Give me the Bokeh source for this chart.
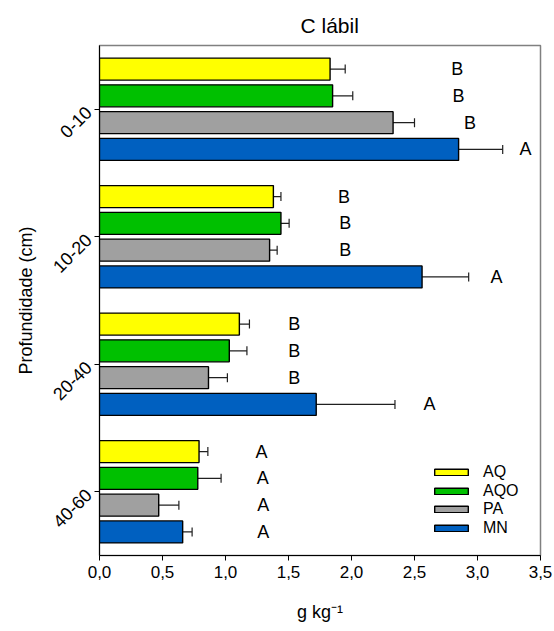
import math
from bokeh.plotting import figure
from bokeh.models import (ColumnDataSource, Whisker, TeeHead, FixedTicker, Legend, LegendItem)
from bokeh.core.properties import value
from bokeh.embed import file_html
from bokeh.resources import INLINE

# ---- data ----
depths = ["0-10", "10-20", "20-40", "40-60"]
series = ["AQ", "AQO", "PA", "MN"]
colors = ["#FFFF00", "#00C000", "#A0A0A0", "#0060C0"]

aq_mean  = [1.83, 1.38, 1.11, 0.79]
aqo_mean = [1.85, 1.44, 1.03, 0.78]
pa_mean  = [2.33, 1.35, 0.865, 0.47]
mn_mean  = [2.85, 2.56, 1.72, 0.66]

aq_err  = [0.12, 0.06, 0.08, 0.07]
aqo_err = [0.16, 0.065, 0.14, 0.185]
pa_err  = [0.17, 0.06, 0.15, 0.16]
mn_err  = [0.35, 0.37, 0.625, 0.075]

aq_letters  = ["B", "B", "B", "A"]
aqo_letters = ["B", "B", "B", "A"]
pa_letters  = ["B", "B", "B", "A"]
mn_letters  = ["A", "A", "A", "A"]

aq_letter_x  = [2.84, 1.94, 1.545, 1.285]
aqo_letter_x = [2.85, 1.95, 1.545, 1.295]
pa_letter_x  = [2.94, 1.95, 1.545, 1.30]
mn_letter_x  = [3.38, 3.15, 2.62, 1.30]

x_ticks = [0.0, 0.5, 1.0, 1.5, 2.0, 2.5, 3.0, 3.5]
x_tick_labels = ["0,0", "0,5", "1,0", "1,5", "2,0", "2,5", "3,0", "3,5"]

means = [aq_mean, aqo_mean, pa_mean, mn_mean]
errs = [aq_err, aqo_err, pa_err, mn_err]
letters = [aq_letters, aqo_letters, pa_letters, mn_letters]
letter_xs = [aq_letter_x, aqo_letter_x, pa_letter_x, mn_letter_x]

FONT = "Liberation Sans"
ngroups = len(depths)
pitch = 0.21
bar_h = 0.1725
offsets = [(1.5 - i) * pitch for i in range(len(series))]
group_centers = [ngroups - 1 - g + 0.5 for g in range(ngroups)]

p = figure(width=554, height=631, x_range=(0, 3.5), y_range=(0, ngroups),
           output_backend="svg", toolbar_location=None,
           min_border_left=99, min_border_right=14, min_border_top=45, min_border_bottom=76)

p.title.text = "C lábil"
p.title.align = "left"
p.title.text_font = FONT
p.title.text_font_size = "21px"
p.title.text_font_style = "normal"
p.title.text_color = "black"
p.title.offset = 201
p.title.standoff = 18

p.grid.visible = False
p.outline_line_color = "#808080"
p.outline_line_width = 1.5
p.background_fill_color = "white"
p.border_fill_color = "white"

renderers = []
for i, s in enumerate(series):
    ys = [group_centers[g] + offsets[i] for g in range(ngroups)]
    src = ColumnDataSource(dict(
        y=ys, v=means[i],
        lo=[m - e for m, e in zip(means[i], errs[i])],
        hi=[m + e for m, e in zip(means[i], errs[i])],
        lx=letter_xs[i], lt=letters[i]))
    r = p.hbar(y="y", right="v", left=0, height=bar_h, source=src,
               fill_color=colors[i], line_color="black", line_width=1.4)
    renderers.append(r)
    w = Whisker(source=src, base="y", lower="lo", upper="hi", dimension="width",
                line_color="#202020", line_width=1.2,
                upper_head=TeeHead(size=9, line_color="#202020", line_width=1.2),
                lower_head=TeeHead(size=9, line_color="#202020", line_width=1.2))
    p.add_layout(w)
    p.text(x="lx", y="y", text="lt", source=src, text_align="center",
           text_baseline="middle", text_font=value(FONT), text_font_size="18px",
           text_color="black")

# legend: one entry per Legend so the row pitch matches the reference
legend_y = [74, 55.5, 37, 18.5]
for s, r, ly in zip(series, renderers, legend_y):
    lg = Legend(items=[LegendItem(label=s, renderers=[r])], location=(331, ly))
    lg.border_line_color = None
    lg.background_fill_alpha = 0
    lg.padding = 0
    lg.margin = 0
    lg.spacing = 0
    lg.glyph_width = 42
    lg.glyph_height = 8
    lg.label_height = 16
    lg.label_standoff = 11
    lg.label_text_font = FONT
    lg.label_text_font_size = "16px"
    lg.label_text_color = "black"
    lg.label_text_baseline = "middle"
    p.add_layout(lg)

# x axis
xa = p.xaxis[0]
xa.ticker = FixedTicker(ticks=x_ticks)
xa.major_label_overrides = {t: l for t, l in zip(x_ticks, x_tick_labels)}
xa.minor_tick_line_color = None
xa.major_tick_in = 0
xa.major_tick_out = 5
xa.axis_line_color = "black"
xa.major_tick_line_color = "black"
xa.major_label_text_font = FONT
xa.major_label_text_font_size = "17px"
xa.major_label_text_color = "black"
xa.axis_label = "g kg⁻¹"
xa.axis_label_text_font = FONT
xa.axis_label_text_font_size = "18px"
xa.axis_label_text_font_style = "normal"
xa.axis_label_text_color = "black"
xa.axis_label_standoff = 21

# y axis
ya = p.yaxis[0]
ya.ticker = FixedTicker(ticks=group_centers)
ya.major_label_overrides = {c: d for c, d in zip(group_centers, depths)}
ya.minor_tick_line_color = None
ya.major_tick_in = 0
ya.major_tick_out = 5
ya.axis_line_color = "black"
ya.major_tick_line_color = "black"
ya.major_label_orientation = math.pi / 4
ya.major_label_standoff = 6
ya.major_label_text_font = FONT
ya.major_label_text_font_size = "18px"
ya.major_label_text_color = "black"
ya.axis_label = "Profundidade (cm)"
ya.axis_label_text_font = FONT
ya.axis_label_text_font_size = "18px"
ya.axis_label_text_font_style = "normal"
ya.axis_label_text_color = "black"
ya.axis_label_standoff = 8

open("out.html", "w").write(file_html(p, INLINE))
